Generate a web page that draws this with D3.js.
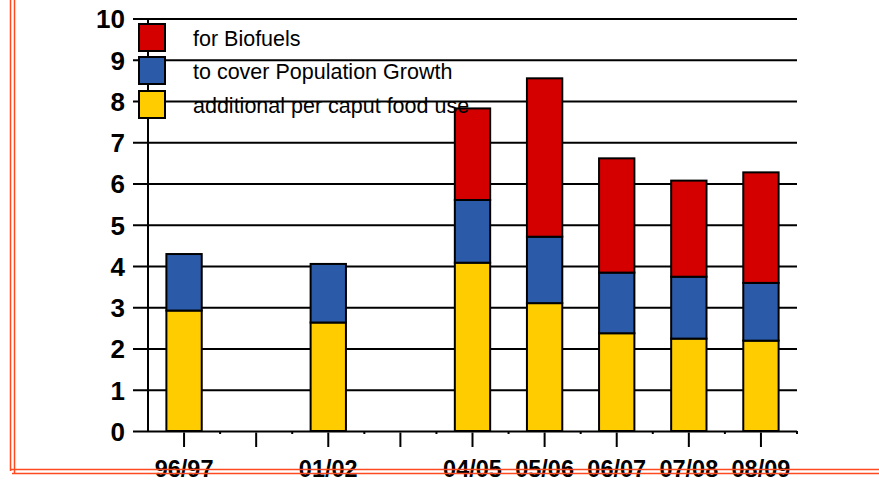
<!DOCTYPE html>
<html>
<head>
<meta charset="utf-8">
<script src="https://cdn.jsdelivr.net/npm/d3@7"></script>
<style>
  html, body { margin: 0; padding: 0; background: #fff; }
  svg { display: block; font-family: "Liberation Sans", Arial, sans-serif; }
</style>
</head>
<body>
<svg id="chart" width="879" height="481"></svg>
<script>
// ---- data ----
const categories = ["96/97", "", "01/02", "", "04/05", "05/06", "06/07", "07/08", "08/09"];
const foodUse    = [2.92, null, 2.63, null, 4.08, 3.10, 2.37, 2.24, 2.19];
const popGrowth  = [1.37, null, 1.42, null, 1.52, 1.61, 1.47, 1.50, 1.40];
const biofuels   = [0,    null, 0,    null, 2.22, 3.84, 2.77, 2.33, 2.68];
const seriesNames = ["additional per caput food use", "to cover Population Growth", "for Biofuels"];
const yTicks = [0, 1, 2, 3, 4, 5, 6, 7, 8, 9, 10];

const colors = ["#FFCC00", "#2B5BA8", "#D40000"];

const svg = d3.select("#chart");
const plotLeft = 148, plotRight = 797, plotTop = 18.5, plotBottom = 431;

const x = d3.scaleBand()
  .domain(d3.range(categories.length))
  .range([plotLeft, plotRight])
  .paddingInner(0.51)
  .paddingOuter(0.255);

const y = d3.scaleLinear().domain([0, 10]).range([plotBottom, plotTop]);

// gridlines + y labels
const yAxis = d3.axisLeft(y)
  .tickValues(yTicks)
  .tickSize(plotRight - 133)
  .tickPadding(8)
  .tickFormat(d3.format("d"));
const gy = svg.append("g")
  .attr("transform", `translate(${plotRight},0)`)
  .call(yAxis);
gy.select(".domain").remove();
gy.selectAll(".tick line").attr("stroke", "#000").attr("stroke-width", 2);
gy.selectAll(".tick text")
  .attr("fill", "#000")
  .style("font-size", "26px")
  .style("font-weight", "bold")
  .attr("dy", "0.36em");

// y-axis vertical line
svg.append("line")
  .attr("x1", plotLeft).attr("x2", plotLeft)
  .attr("y1", y(10)).attr("y2", y(0))
  .attr("stroke", "#000").attr("stroke-width", 2);

// x axis ticks + labels
const xAxis = d3.axisBottom(x)
  .tickSize(16)
  .tickSizeOuter(0)
  .tickPadding(13)
  .tickFormat(i => categories[i]);
const gx = svg.append("g")
  .attr("transform", `translate(0,${plotBottom})`)
  .call(xAxis);
gx.select(".domain").remove();
gx.selectAll(".tick line").attr("stroke", "#000").attr("stroke-width", 2).attr("y1", 1.5);
gx.selectAll(".tick text")
  .attr("fill", "#000")
  .style("font-size", "23.5px")
  .style("font-weight", "bold");

// minor ticks at slot boundaries
const half = x.step() * x.paddingInner() / 2;
const boundaries = d3.range(1, categories.length).map(i => x(i) - half).concat([plotRight]);
svg.append("g").selectAll("line").data(boundaries).join("line")
  .attr("x1", d => d).attr("x2", d => d)
  .attr("y1", plotBottom).attr("y2", plotBottom + 3)
  .attr("stroke", "#000").attr("stroke-width", 2);

// stacked bars
const rows = categories.map((c, i) => ({ i, food: foodUse[i], pop: popGrowth[i], bio: biofuels[i] }))
  .filter(r => r.food !== null);
const stack = d3.stack().keys(["food", "pop", "bio"]);
const stacked = stack(rows);
svg.append("g").selectAll("g").data(stacked).join("g")
  .attr("fill", (d, k) => colors[k])
  .selectAll("rect").data(d => d.filter(s => s[1] - s[0] > 0)).join("rect")
  .attr("x", d => x(d.data.i))
  .attr("width", x.bandwidth())
  .attr("y", d => y(d[1]))
  .attr("height", d => y(d[0]) - y(d[1]))
  .attr("stroke", "#000")
  .attr("stroke-width", 2);

// legend
const legendItems = [
  { name: seriesNames[2], color: colors[2] },
  { name: seriesNames[1], color: colors[1] },
  { name: seriesNames[0], color: colors[0] }
];
const lg = svg.append("g");
const legendY = [24, 57, 91];
legendItems.forEach((d, k) => {
  lg.append("rect")
    .attr("x", 139).attr("y", legendY[k])
    .attr("width", 26).attr("height", 27)
    .attr("fill", d.color).attr("stroke", "#000").attr("stroke-width", 2);
  lg.append("text")
    .attr("x", 193).attr("y", legendY[k] + 22)
    .style("font-size", "21.5px")
    .attr("fill", "#000")
    .text(d.name);
});

// red double border
const border = "#FF4A1F";
const bd = svg.append("g").attr("stroke", border).attr("stroke-width", 1.5).attr("fill", "none");
bd.append("line").attr("x1", 10.5).attr("x2", 10.5).attr("y1", 0).attr("y2", 471);
bd.append("line").attr("x1", 14.5).attr("x2", 14.5).attr("y1", 0).attr("y2", 474);
bd.append("line").attr("x1", 10).attr("x2", 879).attr("y1", 469.5).attr("y2", 469.5);
bd.append("line").attr("x1", 12).attr("x2", 879).attr("y1", 473.5).attr("y2", 473.5);
</script>
</body>
</html>
